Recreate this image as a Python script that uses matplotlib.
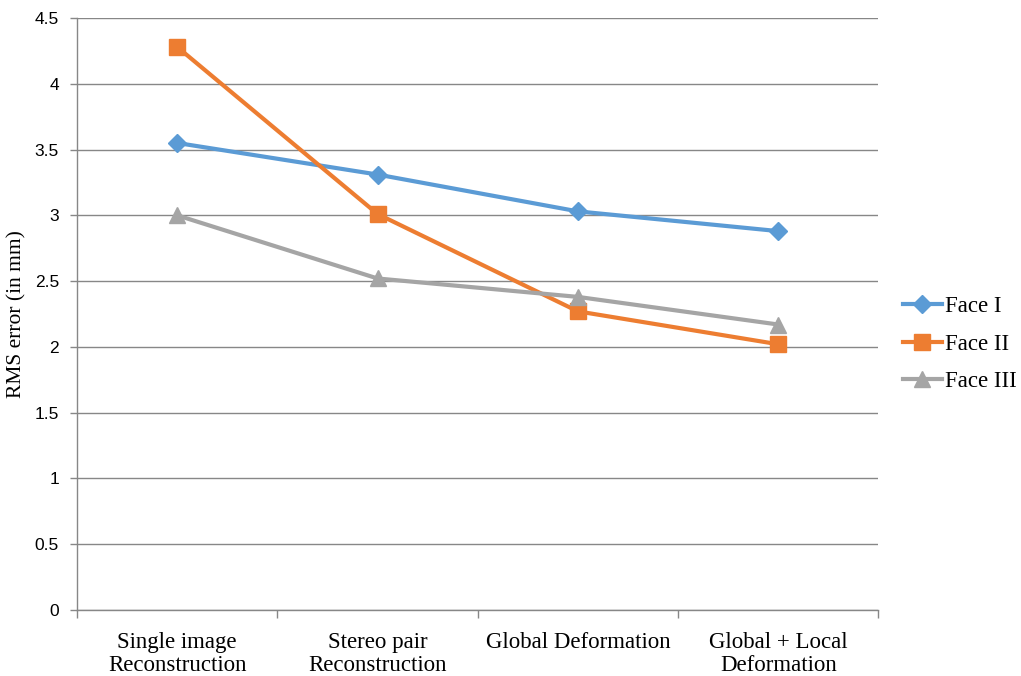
import matplotlib
matplotlib.use("Agg")
import matplotlib.pyplot as plt
from matplotlib.ticker import FixedLocator

categories = ["Single image\nReconstruction", "Stereo pair\nReconstruction",
              "Global Deformation", "Global + Local\nDeformation"]
face_1 = [3.55, 3.31, 3.03, 2.88]
face_2 = [4.28, 3.01, 2.27, 2.02]
face_3 = [3.00, 2.52, 2.38, 2.17]
series_names = ["Face I", "Face II", "Face III"]
y_ticks = [0, 0.5, 1, 1.5, 2, 2.5, 3, 3.5, 4, 4.5]
y_tick_labels = ["0", "0.5", "1", "1.5", "2", "2.5", "3", "3.5", "4", "4.5"]

fig = plt.figure(figsize=(10.21, 6.76), dpi=100)
ax = fig.add_axes([0.0754, 0.0976, 0.785, 0.8758])

x = list(range(len(categories)))
ax.plot(x, face_1, color="#5B9BD5", lw=3.0, marker="D", ms=9, label=series_names[0], zorder=3)
ax.plot(x, face_2, color="#ED7D31", lw=3.0, marker="s", ms=11, label=series_names[1], zorder=3)
ax.plot(x, face_3, color="#A5A5A5", lw=3.0, marker="^", ms=11, label=series_names[2], zorder=3)

ax.set_xlim(-0.5, len(categories) - 0.5)
ax.set_ylim(0, 4.5)
ax.set_yticks(y_ticks)
ax.set_yticklabels(y_tick_labels, fontfamily="Liberation Sans", fontsize=12.5)
ax.grid(axis="y", color="#878787", lw=1.0)
ax.set_axisbelow(True)

# category labels centred between boundary ticks
ax.xaxis.set_major_locator(FixedLocator([i - 0.5 for i in range(len(categories) + 1)]))
ax.xaxis.set_major_formatter(plt.NullFormatter())
ax.xaxis.set_minor_locator(FixedLocator(x))
ax.set_xticklabels(categories, minor=True, fontfamily="Liberation Serif", fontsize=16.5,
                   linespacing=1.1)
ax.tick_params(axis="x", which="minor", length=0, pad=16)
ax.tick_params(axis="x", which="major", length=6, color="#878787", width=1)
ax.tick_params(axis="y", length=5, color="#878787", width=1, pad=8)

for side in ("top", "right"):
    ax.spines[side].set_visible(False)
for side in ("left", "bottom"):
    ax.spines[side].set_color("#878787")
    ax.spines[side].set_linewidth(1)

ax.set_ylabel("RMS error (in mm)", fontfamily="Liberation Serif", fontsize=15.5, labelpad=6)

ax.legend(loc="center left", bbox_to_anchor=(903 / 1021, 1 - 344 / 676),
          bbox_transform=fig.transFigure, frameon=False,
          prop={"family": "Liberation Serif", "size": 16.5}, handlelength=1.7,
          handletextpad=0.15, labelspacing=0.7, borderaxespad=0, borderpad=0)

fig.savefig("out.png", dpi=100)
